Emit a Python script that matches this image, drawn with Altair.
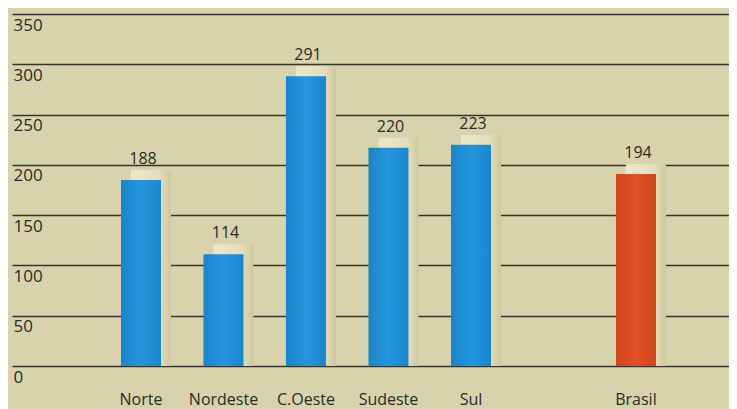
import altair as alt
import pandas as pd

regions = ["  ", "Norte", "Nordeste", "C.Oeste", "Sudeste", "Sul", " ", "Brasil"]
values = [None, 188, 114, 291, 220, 223, None, 194]
y_ticks = [0, 50, 100, 150, 200, 250, 300, 350]

df = pd.DataFrame({"regiao": regions, "valor": values}).dropna()

FONT = "Open Sans"
BG = "#d8d3ad"
INK = "#2a2a28"

x = alt.X("regiao:N", sort=regions,
          scale=alt.Scale(domain=regions, paddingInner=0.515, paddingOuter=0.603, align=0.266),
          axis=alt.Axis(title=None, labelAngle=0, domain=False, ticks=False,
                        labelBaseline="alphabetic", labelPadding=38,
                        labelFont=FONT, labelFontSize=16, labelColor=INK))
y = alt.Y("valor:Q", scale=alt.Scale(domain=[0, 350], nice=False),
          axis=alt.Axis(title=None, values=y_ticks, domain=False, ticks=False,
                        grid=True, gridColor="#35342c", gridWidth=1.3, gridOpacity=1,
                        labelAlign="left", labelBaseline="top", labelPadding=-1,
                        labelOffset=3, labelFont=FONT, labelFontSize=17,
                        labelColor=INK))

base = alt.Chart(df)

shadow = base.mark_bar(
    xOffset=10, yOffset=-7, y2Offset=0,
    color={"gradient": "linear", "x1": 0, "x2": 1, "y1": 0, "y2": 0,
           "stops": [{"offset": 0, "color": "#ebe7c9"},
                     {"offset": 0.7, "color": "#e3dfbd"},
                     {"offset": 1, "color": "#cdc89c"}]},
).encode(x=x, y=y, y2=alt.datum(0))

blue = base.transform_filter(alt.datum.regiao != "Brasil").mark_bar(
    yOffset=3, y2Offset=0,
    color={"gradient": "linear", "x1": 0, "x2": 1, "y1": 0, "y2": 0,
           "stops": [{"offset": 0, "color": "#1a84cc"},
                     {"offset": 0.5, "color": "#2596dc"},
                     {"offset": 1, "color": "#1a86cf"}]},
).encode(x=x, y=y, y2=alt.datum(0))

red = base.transform_filter(alt.datum.regiao == "Brasil").mark_bar(
    yOffset=3, y2Offset=0,
    color={"gradient": "linear", "x1": 0, "x2": 1, "y1": 0, "y2": 0,
           "stops": [{"offset": 0, "color": "#d4461f"},
                     {"offset": 0.5, "color": "#de5226"},
                     {"offset": 1, "color": "#d2441e"}]},
).encode(x=x, y=y, y2=alt.datum(0))

labels = base.mark_text(dy=-13, baseline="alphabetic", font=FONT, fontSize=16,
                        color=INK, xOffset=2).encode(
    x=x, y=y, text=alt.Text("valor:Q", format="d"))

chart = alt.layer(shadow, blue, red, labels).properties(
    width=717, height=352,
    background=BG,
    padding={"left": 4, "top": 6, "right": 0, "bottom": 43},
    autosize=alt.AutoSizeParams(type="none"),
).configure_view(stroke=None, fill=BG)

chart.save("out.html", embed_options={"renderer": "svg", "actions": False})
